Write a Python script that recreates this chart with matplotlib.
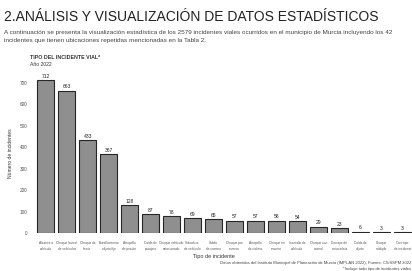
import matplotlib
matplotlib.use("Agg")
import matplotlib.pyplot as plt

plt.rcParams['font.family'] = ['Liberation Sans', 'DejaVu Sans']

categories = [
    "Alcance a\nvehículo", "Choque lateral\nde vehículos", "Choque de\nfrente",
    "Estrellamiento\nobjeto fijo", "Atropello\nde peatón", "Caída de\npasajero",
    "Choque vehículo\nestacionado", "Volcadura\nde vehículo", "Salida\nde camino",
    "Choque por\nreversa", "Atropello\nde ciclista", "Choque en\ncrucero",
    "Incendio de\nvehículo", "Choque con\nanimal", "Derrape de\nmotocicleta",
    "Caída de\nobjeto", "Choque\nmúltiple", "Otro tipo\nde incidente",
]
values = [712, 663, 433, 367, 128, 87, 78, 69, 65, 57, 57, 58, 54, 29, 23, 6, 3, 3]
yticks = [0, 100, 200, 300, 400, 500, 600, 700]

W, H = 412, 271
fig = plt.figure(figsize=(W / 100, H / 100), dpi=100)
fig.patch.set_facecolor("white")

def fx(x):
    return x / W

def fy(y):
    return 1 - y / H

fig.text(fx(4), fy(21), "2.ANÁLISIS Y VISUALIZACIÓN DE DATOS ESTADÍSTICOS",
         fontsize=10.0, color="#222222", ha="left", va="baseline")
fig.text(fx(4), fy(34), "A continuación se presenta la visualización estadística de los 2579 incidentes viales ocurridos en el municipio de Murcia incluyendo los 42",
         fontsize=4.6, color="#444444", ha="left", va="baseline")
fig.text(fx(4), fy(42), "incidentes que tienen ubicaciones repetidas mencionadas en la Tabla 2.",
         fontsize=4.6, color="#444444", ha="left", va="baseline")
fig.text(fx(30), fy(59), "TIPO DEL INCIDENTE VIAL*", fontsize=3.8, color="#333333",
         ha="left", va="baseline", fontweight="bold")
fig.text(fx(30), fy(66), "Año 2022", fontsize=3.6, color="#333333", ha="left", va="baseline")

ax = fig.add_axes([fx(33), fy(233), fx(414) - fx(33), fy(74) - fy(233)])
x = range(len(values))
bars = ax.bar(x, values, width=0.84, color="#8f8f8f", edgecolor="#262626", linewidth=0.8)
for xi, v in zip(x, values):
    ax.text(xi, v + 6, str(v), ha="center", va="bottom", fontsize=3.6, color="#222222")

ax.set_xlim(-0.6, len(values) - 0.45)
ax.set_ylim(0, 740)
ax.set_yticks(yticks)
ax.set_yticklabels([str(t) for t in yticks], fontsize=3.4, color="#555555")
ax.set_xticks(list(x))
ax.set_xticklabels(categories, fontsize=2.3, color="#555555", linespacing=1.7)
ax.tick_params(axis="both", length=0, pad=4)
ax.tick_params(axis="x", pad=6)
for s in ax.spines.values():
    s.set_visible(False)
ax.set_ylabel("Número de incidentes", fontsize=3.6, color="#333333", labelpad=5)
ax.set_facecolor("white")

fig.text(fx(214), fy(258), "Tipo de incidente", fontsize=4.0, color="#333333",
         ha="center", va="baseline")
fig.text(fx(411), fy(264), "Datos obtenidos del Instituto Municipal de Planeación de Murcia (IMPLAN 2022), Fuente: C5/SSPM 2022",
         fontsize=3.0, color="#444444", ha="right", va="baseline")
fig.text(fx(411), fy(270), "*Incluye todo tipo de incidentes viales",
         fontsize=3.0, color="#444444", ha="right", va="baseline")

fig.savefig("out.png", dpi=100, facecolor="white")
